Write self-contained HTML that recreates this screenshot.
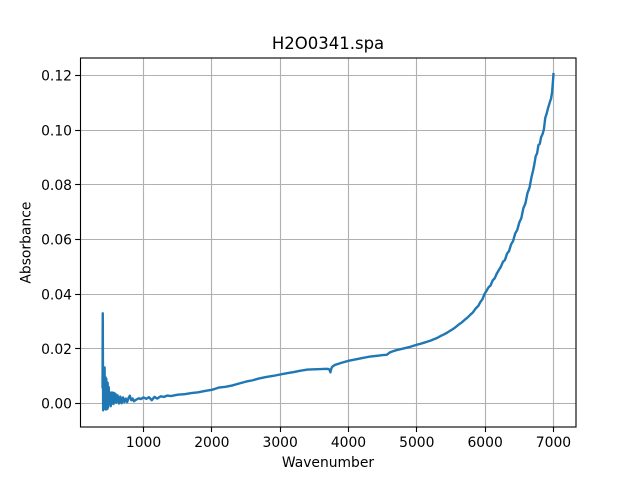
<!DOCTYPE html>
<html>
<head>
<meta charset="utf-8">
<title>H2O0341.spa</title>
<style>
html,body{margin:0;padding:0;background:#fff;width:640px;height:480px;overflow:hidden}
svg{display:block}
text{font-family:"DejaVu Sans","Liberation Sans",sans-serif;fill:#000}
</style>
</head>
<body>
<svg id="chart" xmlns="http://www.w3.org/2000/svg" width="640" height="480" viewBox="0 0 640 480"></svg>
<script>
const xTicks = [1000, 2000, 3000, 4000, 5000, 6000, 7000];
const yTicks = [0, 0.02, 0.04, 0.06, 0.08, 0.10, 0.12];
const yTickLabels = ["0.00", "0.02", "0.04", "0.06", "0.08", "0.10", "0.12"];
const wavenumber = [400,403,406,409,412,415,418,421,424,427,430,433,436,440,445,450,455,460,465,470,475,480,490,500,510,520,530,540,550,560,570,580,590,600,620,640,660,680,700,720,740,760,780,800,820,840,860,880,900,930,960,1000,1040,1080,1120,1160,1200,1250,1300,1350,1400,1500,1600,1700,1800,1900,2000,2050,2100,2200,2300,2400,2500,2600,2700,2800,2900,3000,3100,3200,3300,3400,3500,3600,3680,3710,3725,3735,3745,3760,3800,3850,3900,4000,4100,4200,4300,4400,4500,4560,4600,4650,4700,4800,4900,5000,5050,5100,5150,5200,5250,5300,5350,5400,5450,5500,5540,5580,5620,5660,5700,5740,5780,5820,5860,5900,5930,5960,5990,6020,6050,6080,6110,6140,6170,6200,6230,6260,6290,6320,6350,6380,6410,6440,6470,6500,6530,6560,6590,6620,6650,6680,6700,6720,6740,6760,6780,6800,6820,6840,6860,6880,6900,6920,6935,6950,6965,6980,6990,7000];
const absorbance = [0.006,0.033,0.012,-0.0025,0.013,-0.002,0.0132,-0.002,0.012,-0.0015,0.0132,0,0.009,-0.001,0.0095,-0.0022,0.009,-0.0018,0.0078,-0.002,0.0075,-0.0015,0.006,-0.0002,0.004,-0.001,0.004,0,0.004,-0.0002,0.0038,0.0005,0.0035,0.0003,0.003,0,0.0025,0.0001,0.0022,0.0005,0.0018,0.0005,0.002,0.0028,0.0012,0.0018,0.0008,0.0012,0.0015,0.0019,0.0016,0.0022,0.0017,0.0023,0.0012,0.0024,0.0018,0.0026,0.0024,0.0029,0.0027,0.0032,0.0034,0.0038,0.0041,0.0046,0.005,0.0054,0.0058,0.0061,0.0066,0.0073,0.008,0.0085,0.0092,0.0097,0.0101,0.0106,0.0111,0.0115,0.012,0.0124,0.0125,0.0126,0.0127,0.0126,0.0122,0.0114,0.0125,0.0134,0.0141,0.0145,0.0149,0.0156,0.0161,0.0166,0.0171,0.0174,0.0177,0.0178,0.0186,0.0191,0.0195,0.0201,0.0207,0.0215,0.0218,0.0222,0.0226,0.023,0.0235,0.024,0.0247,0.0253,0.026,0.0268,0.0274,0.0282,0.029,0.0297,0.0306,0.0314,0.0324,0.0333,0.0347,0.0357,0.0371,0.0381,0.04,0.0412,0.0425,0.0432,0.045,0.0458,0.0475,0.0488,0.05,0.0518,0.0525,0.0548,0.0558,0.0582,0.0595,0.0622,0.0635,0.0662,0.0678,0.0715,0.0732,0.077,0.079,0.083,0.085,0.0875,0.0905,0.0915,0.0945,0.095,0.0975,0.0985,0.1003,0.1045,0.106,0.108,0.1092,0.1105,0.1115,0.114,0.117,0.1205];

const svg = document.getElementById('chart');
const NS = 'http://www.w3.org/2000/svg';
const plotLeft = 80, plotRight = 576, plotTop = 57.6, plotBottom = 427.2;
const xMin = 70, xMax = 7330, yMin = -0.00868, yMax = 0.12655;

function xScale(v) { return plotLeft + (v - xMin) / (xMax - xMin) * (plotRight - plotLeft); }
function yScale(v) { return plotBottom - (v - yMin) / (yMax - yMin) * (plotBottom - plotTop); }
function snap(p) { return Math.round(p - 0.5) + 0.5; }
function make(tag, attrs) {
  const el = document.createElementNS(NS, tag);
  for (const k in attrs) el.setAttribute(k, attrs[k]);
  return el;
}

const bg = make('rect', {x: plotLeft, y: plotTop, width: plotRight - plotLeft, height: plotBottom - plotTop, fill: '#fff'});


svg.appendChild(bg);

xTicks.forEach(function (t) {
  const px = snap(xScale(t));
  const grid = make('line', {x1: px, x2: px, y1: plotTop, y2: plotBottom, stroke: '#b0b0b0', 'stroke-width': 1.11});
  
  
  svg.appendChild(grid);
  const tick = make('line', {x1: px, x2: px, y1: plotBottom, y2: plotBottom + 4.86, stroke: '#000', 'stroke-width': 1.11});
  
  
  svg.appendChild(tick);
  const label = make('text', {x: xScale(t), y: 447, 'text-anchor': 'middle', 'font-size': 13.89});
  
  
  label.textContent = String(t);
  svg.appendChild(label);
});

yTicks.forEach(function (t, i) {
  const py = snap(yScale(t));
  const grid = make('line', {x1: plotLeft, x2: plotRight, y1: py, y2: py, stroke: '#b0b0b0', 'stroke-width': 1.11});
  
  
  svg.appendChild(grid);
  const tick = make('line', {x1: plotLeft - 4.86, x2: plotLeft, y1: py, y2: py, stroke: '#000', 'stroke-width': 1.11});
  
  
  svg.appendChild(tick);
  const label = make('text', {x: 72, y: yScale(t) + 5.2, 'text-anchor': 'end', 'font-size': 13.89});
  
  
  label.textContent = yTickLabels[i];
  svg.appendChild(label);
});

const pts = wavenumber.map(function (w, i) { return xScale(w).toFixed(2) + ',' + yScale(absorbance[i]).toFixed(2); }).join(' ');
const series = make('polyline', {points: pts, fill: 'none', stroke: '#1f77b4', 'stroke-width': 2.4, 'stroke-linejoin': 'round', 'stroke-linecap': 'square'});


svg.appendChild(series);

const frame = make('rect', {x: plotLeft + 0.5, y: 58, width: plotRight - plotLeft - 0.5, height: 369, fill: 'none', stroke: '#000', 'stroke-width': 1.11});


svg.appendChild(frame);

const title = make('text', {x: 328, y: 49, 'text-anchor': 'middle', 'font-size': 16.5});


title.textContent = 'H2O0341.spa';
svg.appendChild(title);

const xTitle = make('text', {x: 328, y: 467, 'text-anchor': 'middle', 'font-size': 13.89});


xTitle.textContent = 'Wavenumber';
svg.appendChild(xTitle);

const yTitle = make('text', {x: 30.5, y: 242.6, 'text-anchor': 'middle', 'font-size': 13.89, transform: 'rotate(-90 30.5 242.6)'});


yTitle.textContent = 'Absorbance';
svg.appendChild(yTitle);
</script>
</body>
</html>
